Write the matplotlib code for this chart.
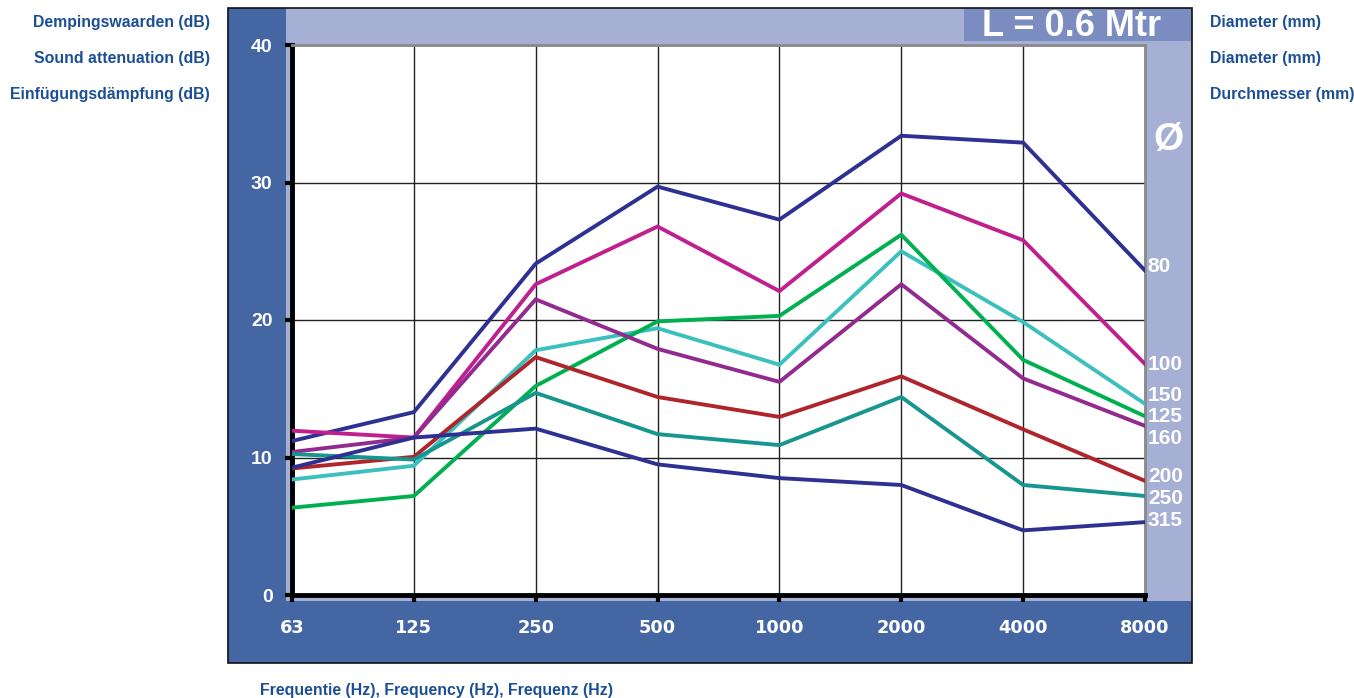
import matplotlib
matplotlib.use("Agg")
import matplotlib.pyplot as plt
from matplotlib.patches import Rectangle

# %% Data: insertion loss per octave band for each duct diameter (L = 0.6 m)
freqs = ["63", "125", "250", "500", "1000", "2000", "4000", "8000"]
diameters = ["80", "100", "150", "125", "160", "200", "250", "315"]

att_80 = [11.2, 13.3, 24.1, 29.7, 27.3, 33.4, 32.9, 23.6]
att_100 = [11.95, 11.45, 22.6, 26.8, 22.1, 29.2, 25.8, 16.8]
att_150 = [8.4, 9.4, 17.8, 19.4, 16.75, 25.0, 19.85, 13.9]
att_125 = [6.35, 7.2, 15.2, 19.9, 20.3, 26.2, 17.1, 13.0]
att_160 = [10.4, 11.45, 21.5, 17.9, 15.5, 22.6, 15.75, 12.3]
att_200 = [9.2, 10.05, 17.3, 14.4, 12.95, 15.9, 12.05, 8.3]
att_250 = [10.25, 9.85, 14.7, 11.7, 10.9, 14.4, 8.0, 7.2]
att_315 = [9.26, 11.45, 12.1, 9.5, 8.5, 8.0, 4.7, 5.3]

series = [att_80, att_100, att_150, att_125, att_160, att_200, att_250, att_315]
colors = ["#2e3192", "#c0208e", "#3cc0bd", "#00b050",
          "#922a8f", "#b0252c", "#17968f", "#2e3192"]
# where the diameter tags sit on the right strip (spread so they don't collide)
tag_y = [23.9, 16.8, 14.5, 12.95, 11.4, 8.6, 7.0, 5.45]

# %% Figure and colours
plt.rcParams["font.family"] = ["Liberation Sans", "DejaVu Sans"]
W, H = 1354, 698
fig = plt.figure(figsize=(W / 100, H / 100), dpi=100)

dark = "#4466a2"
light = "#a6b0d4"
mid = "#7a8cc0"
label_blue = "#1c4f94"


def box(x0, y0, x1, y1, color, **kw):
    # rectangle in pixel coords, y measured from the top
    r = Rectangle((x0 / W, 1 - y1 / H), (x1 - x0) / W, (y1 - y0) / H,
                  transform=fig.transFigure, facecolor=color,
                  edgecolor="none", zorder=0, **kw)
    fig.patches.append(r)


box(286, 8, 1192, 601, light)
box(228, 8, 286, 663, dark)
box(228, 601, 1192, 663, dark)
box(964, 8, 1192, 41, mid)
fig.patches.append(Rectangle((228 / W, 1 - 663 / H), 964 / W, 655 / H,
                             transform=fig.transFigure, facecolor="none",
                             edgecolor="#111111", lw=1.2, zorder=1))

# %% Plot area
ax = fig.add_axes([292 / W, 1 - 595 / H, (1145 - 292) / W, (595 - 45) / H])
ax.set_zorder(2)
ax.set_facecolor("white")

x = list(range(len(freqs)))
for vals, col in zip(series, colors):
    ax.plot(x, vals, color=col, lw=2.8, solid_joinstyle="miter", zorder=3)

for lab, ty in zip(diameters, tag_y):
    ax.annotate(lab, xy=(7, ty), xytext=(2, 0), textcoords="offset points",
                ha="left", va="center", color="white", fontsize=15,
                fontweight="bold", annotation_clip=False)
ax.annotate("Ø", xy=(7, 33.1), xytext=(17, 0), textcoords="offset points",
            ha="center", va="center", color="white", fontsize=28,
            fontweight="bold", annotation_clip=False)

ax.set_xlim(0, 7)
ax.set_ylim(0, 40)
ax.set_xticks(x)
ax.set_xticklabels(freqs)
ax.set_yticks([0, 10, 20, 30, 40])
ax.grid(True, color="#222222", lw=1.0, zorder=1)

for side in ["left", "bottom"]:
    ax.spines[side].set_color("black")
    ax.spines[side].set_linewidth(3.5)
for side in ["top", "right"]:
    ax.spines[side].set_color("#8a8a8a")
    ax.spines[side].set_linewidth(2)

ax.tick_params(axis="both", length=5, width=3, color="black",
               labelcolor="white")
ax.tick_params(axis="y", pad=9, labelsize=14)
ax.tick_params(axis="x", pad=12)
for t in ax.get_yticklabels():
    t.set_fontweight("bold")
# the frequency labels are set wider, DejaVu's broad digits give that spacing
for t in ax.get_xticklabels():
    t.set_fontweight("bold")
    t.set_fontfamily("DejaVu Sans")
    t.set_fontsize(12.8)

# %% Titles and captions
fig.text(1072 / W, 1 - 27 / H, "L = 0.6 Mtr", ha="center", va="center",
         color="white", fontsize=26, fontweight="bold", zorder=4)

for txt, yy in [("Dempingswaarden (dB)", 22), ("Sound attenuation (dB)", 58),
                ("Einfügungsdämpfung (dB)", 95)]:
    fig.text(210 / W, 1 - yy / H, txt, ha="right", va="center",
             color=label_blue, fontsize=11.4, fontweight="bold")

for txt, yy in [("Diameter (mm)", 22), ("Diameter (mm)", 58),
                ("Durchmesser (mm)", 95)]:
    fig.text(1210 / W, 1 - yy / H, txt, ha="left", va="center",
             color=label_blue, fontsize=11.4, fontweight="bold")

fig.text(260 / W, 1 - 690 / H, "Frequentie (Hz), Frequency (Hz), Frequenz (Hz)",
         ha="left", va="center", color=label_blue, fontsize=11.4,
         fontweight="bold")

fig.savefig("out.png", dpi=100)
